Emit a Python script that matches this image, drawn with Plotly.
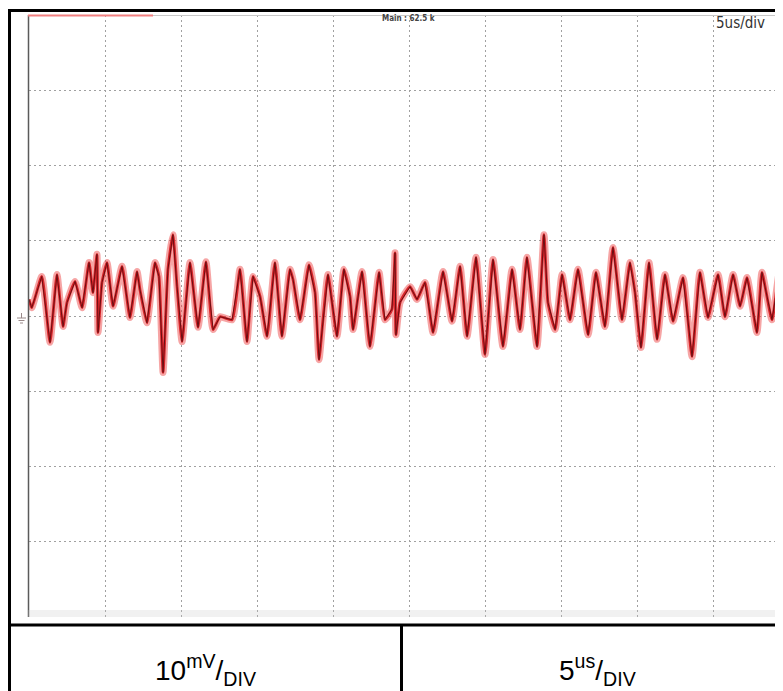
import plotly.graph_objects as go

# Data: time (us) and voltage (mV)
time_us = [0.0, 0.18, 0.84, 1.38, 1.84, 2.24, 2.50, 3.03, 3.49, 3.95, 4.21, 4.47, 4.54, 4.80,
           5.13, 5.53, 6.12, 6.64, 7.11, 7.30, 7.76, 8.29, 8.55, 8.82, 9.14, 9.47, 9.74, 10.07,
           10.59, 11.12, 11.64, 12.11, 12.57, 13.36, 13.88, 14.34, 14.74, 15.20, 15.66, 16.18,
           16.64, 17.17, 17.37, 17.83, 18.42, 18.82, 19.08, 19.34, 19.67, 20.26, 20.72, 21.12,
           21.32, 21.91, 22.43, 23.03, 23.42, 23.88, 24.08, 24.14, 24.41, 25.07, 25.53, 26.05,
           26.58, 27.24, 27.83, 28.36, 28.82, 29.41, 30.00, 30.53, 31.18, 31.78, 32.30, 32.76,
           33.42, 33.88, 34.14, 34.61, 35.07, 35.59, 36.12, 36.78, 37.30, 37.89, 38.42, 39.01,
           39.54, 39.87, 40.26, 40.79, 41.32, 41.84, 42.37, 43.03, 43.62, 44.14, 44.67, 45.33,
           45.79, 46.32, 46.78, 47.24, 47.89, 48.22, 48.88, 49.41, 49.61]
voltage_mv = [2.2, 1.1, 5.25, -3.5, 5.5, -1.4, 1.8, 4.6, 1.1, 7.1, 3.1, 8.2, -2.2, 4.45,
              7.1, 1.3, 6.6, -0.2, 5.9, 3.5, -0.9, 7.1, 5.25, -7.5, 6.2, 10.8, 3.9, -3.4,
              7.1, -1.5, 7.2, -1.8, -0.1, -0.5, 6.2, -3.4, 5.25, 2.6, -2.7, 7.1,
              -2.7, 6.2, 4.85, -0.5, 6.8, 3.1, -5.8, -0.5, 5.5, -2.7, 6.2, 2.6,
              -1.8, 5.9, -4.05, 5.8, -0.5, 0.9, 8.4, -2.5, 1.8, 3.9, 2.2, 4.45,
              -2.2, 5.9, -0.7, 6.6, -2.7, 7.8, -5.1, 7.5, -4.05, 6.2, -1.8, 7.8,
              -4.05, 10.8, 1.8, -1.8, 5.5, -0.5, 6.2, -2.5, 5.8, -1.4, 9.1, -0.5,
              7.1, 3.1, -4.2, 7.1, -3.1, 5.5, -0.7, 5.1, -5.4, 5.8, -0.2, 5.5,
              -0.1, 5.5, 1.3, 5.1, -2.2, 5.8, -0.5, 6.2, 5.8]

scale_labels = ["10<sup>mV</sup>/<sub>DIV</sub>", "5<sup>us</sup>/<sub>DIV</sub>"]
header_main = "Main : 62.5 k"
header_timebase = "5us/div"

# page body has an 8px margin, so the figure starts at (8, 8) of the window
OFF = 8
W, H = 783 - OFF, 691 - OFF


def px(x):
    return (x - OFF) / W


def py(y):
    return 1 - (y - OFF) / H


fig = go.Figure()
fig.add_trace(go.Scatter(x=time_us, y=voltage_mv, mode="lines",
                         line=dict(color="rgba(238,75,75,0.5)", width=7, shape="spline", smoothing=0.5),
                         hoverinfo="skip", showlegend=False))
fig.add_trace(go.Scatter(x=time_us, y=voltage_mv, mode="lines",
                         line=dict(color="#d8252a", width=2.8, shape="spline", smoothing=0.5),
                         showlegend=False))
fig.add_trace(go.Scatter(x=time_us, y=voltage_mv, mode="lines",
                         line=dict(color="#6a0e12", width=1),
                         hoverinfo="skip", showlegend=False))

grid = dict(showgrid=True, gridcolor="#a0a0a0", griddash="2px,3px", gridwidth=1,
            zeroline=False, showticklabels=False, ticks="", showline=False, fixedrange=True)
fig.update_xaxes(range=[0, 49.605], dtick=5, tick0=0, domain=[px(29), 1], **grid)
fig.update_yaxes(range=[-40, 40], dtick=10, tick0=0, domain=[py(617), py(15)], **grid)

shapes = []
blk = dict(color="black", width=3)
# outer frame and table
shapes.append(dict(type="line", xref="paper", yref="paper", x0=px(9.5), x1=px(9.5), y0=py(9), y1=py(691), line=blk))
shapes.append(dict(type="line", xref="paper", yref="paper", x0=px(8), x1=px(783), y0=py(10.5), y1=py(10.5), line=blk))
shapes.append(dict(type="line", xref="paper", yref="paper", x0=px(8), x1=px(783), y0=py(625), y1=py(625), line=blk))
shapes.append(dict(type="line", xref="paper", yref="paper", x0=px(401.5), x1=px(401.5), y0=py(625), y1=py(691), line=blk))
# screen edges
shapes.append(dict(type="line", xref="paper", yref="paper", x0=px(28.5), x1=px(28.5), y0=py(15), y1=py(617),
                   line=dict(color="#5a5a5a", width=1.5)))
shapes.append(dict(type="line", xref="paper", yref="paper", x0=px(28), x1=px(783), y0=py(15.5), y1=py(15.5),
                   line=dict(color="#c8c8c8", width=1)))
shapes.append(dict(type="line", xref="paper", yref="paper", x0=px(28), x1=px(153), y0=py(15.5), y1=py(15.5),
                   line=dict(color="#f28080", width=2)))
shapes.append(dict(type="rect", xref="paper", yref="paper", x0=px(28), x1=px(783), y0=py(617), y1=py(610),
                   line=dict(width=0), fillcolor="rgba(200,200,200,0.25)"))
# ground marker
gm = dict(color="#9a8a8a", width=1)
shapes.append(dict(type="line", xref="paper", yref="paper", x0=px(21.5), x1=px(21.5), y0=py(313), y1=py(318), line=gm))
shapes.append(dict(type="line", xref="paper", yref="paper", x0=px(17), x1=px(26), y0=py(318), y1=py(318), line=gm))
shapes.append(dict(type="line", xref="paper", yref="paper", x0=px(18.5), x1=px(24.5), y0=py(320.5), y1=py(320.5), line=gm))
shapes.append(dict(type="line", xref="paper", yref="paper", x0=px(20), x1=px(23), y0=py(323), y1=py(323), line=gm))

narrow = "Liberation Sans Narrow, Arial Narrow, DejaVu Sans Condensed, sans-serif"
label_font = dict(family="Liberation Sans, Arial, sans-serif", size=28, color="black")
annotations = [
    dict(text="<b>" + header_main + "</b>", x=px(408), y=py(19), xref="paper", yref="paper",
         xanchor="center", yanchor="middle",
         showarrow=False, font=dict(family=narrow, size=8, color="#444")),
    dict(text=header_timebase, x=px(740), y=py(23), xref="paper", yref="paper",
         xanchor="center", yanchor="middle",
         showarrow=False, font=dict(family=narrow, size=15, color="#333")),
    dict(text=scale_labels[0], x=px(205), y=py(670), xref="paper", yref="paper",
         xanchor="center", yanchor="middle", showarrow=False, font=label_font),
    dict(text=scale_labels[1], x=px(597), y=py(670), xref="paper", yref="paper",
         xanchor="center", yanchor="middle", showarrow=False, font=label_font),
]

fig.update_layout(width=W, height=H, margin=dict(l=0, r=0, t=0, b=0),
                  paper_bgcolor="white", plot_bgcolor="white",
                  shapes=shapes, annotations=annotations, showlegend=False)

fig.write_html("out.html")
